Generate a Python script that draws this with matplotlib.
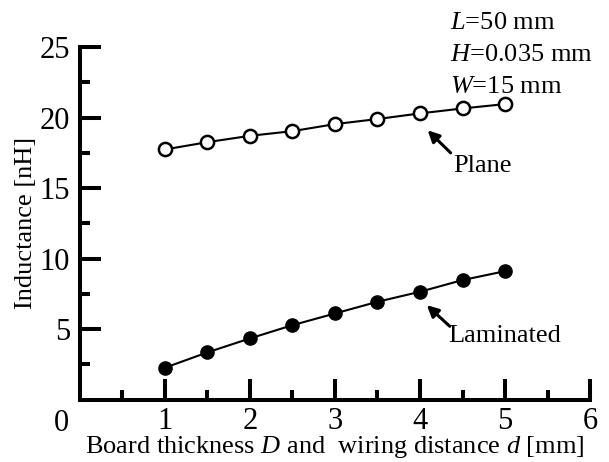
import matplotlib.pyplot as plt
from matplotlib.ticker import FixedLocator
import matplotlib.transforms as mtransforms

# Times 风格字体
plt.rcParams['font.family'] = ['Liberation Serif', 'DejaVu Serif']
plt.rcParams['mathtext.fontset'] = 'custom'
plt.rcParams['mathtext.rm'] = 'Liberation Serif'
plt.rcParams['mathtext.it'] = 'Liberation Serif:italic'

# 数据
distance = [1.0, 1.5, 2.0, 2.5, 3.0, 3.5, 4.0, 4.5, 5.0]
plane = [17.74, 18.26, 18.71, 19.04, 19.54, 19.9, 20.3, 20.65, 20.96]
laminated = [2.26, 3.35, 4.34, 5.28, 6.11, 6.94, 7.65, 8.48, 9.11]

x_major = [1, 2, 3, 4, 5, 6]
x_minor = [0.5, 1.5, 2.5, 3.5, 4.5, 5.5]
y_major = [5, 10, 15, 20, 25]
y_minor = [2.5, 7.5, 12.5, 17.5, 22.5]

fig = plt.figure(figsize=(6.09, 4.62), dpi=100)
ax = fig.add_axes([0.131, 0.135, 0.838, 0.763])

# 曲线
ax.plot(distance, plane, '-o', color='k', lw=1.5, ms=9.5,
        markerfacecolor='white', markeredgewidth=1.8, clip_on=False)
ax.plot(distance, laminated, '-o', color='k', lw=1.5, ms=9.5,
        markerfacecolor='k', markeredgewidth=1.0, clip_on=False)

ax.set_xlim(0, 6)
ax.set_ylim(0, 25)

# 坐标轴样式
for side in ['top', 'right']:
    ax.spines[side].set_visible(False)
for side in ['left', 'bottom']:
    ax.spines[side].set_linewidth(2.9)
    ax.spines[side].set_capstyle('projecting')

ax.xaxis.set_major_locator(FixedLocator(x_major))
ax.xaxis.set_minor_locator(FixedLocator(x_minor))
ax.yaxis.set_major_locator(FixedLocator(y_major))
ax.yaxis.set_minor_locator(FixedLocator(y_minor))
ax.tick_params(which='major', direction='in', length=15, width=2.9, labelsize=22)
ax.tick_params(which='minor', direction='in', length=7.5, width=2.9)
ax.tick_params(axis='x', which='major', pad=5)
ax.tick_params(axis='y', which='major', pad=7)

# 原点的 0
trans = mtransforms.blended_transform_factory(ax.transData, ax.transAxes)
ax.text(-0.21, -0.027, '0', transform=trans, ha='center', va='top', fontsize=22)

ax.set_xlabel('Board thickness $D$ and  wiring distance $d$ [mm]', fontsize=19, labelpad=-1)
ax.set_ylabel('Inductance [nH]', fontsize=19, labelpad=2)

# 标注: 箭头 + 文字
arrow = dict(arrowstyle='-|>', color='k', lw=2.2, mutation_scale=17, shrinkA=0, shrinkB=0)
ax.annotate('', xy=(4.09, 19.1), xytext=(4.36, 17.5), arrowprops=arrow)
ax.text(4.74, 16.6, 'Plane', fontsize=19, ha='center', va='center')
ax.annotate('', xy=(4.08, 6.7), xytext=(4.35, 5.2), arrowprops=arrow)
ax.text(5.0, 4.5, 'Laminated', fontsize=19, ha='center', va='center')

params = ['$L$=50 mm', '$H$=0.035 mm', '$W$=15 mm']
for i, s in enumerate(params):
    ax.text(4.35, 26.3 - i * 2.27, s, fontsize=19, ha='left', va='baseline', clip_on=False)

fig.savefig('out.png', dpi=100)
